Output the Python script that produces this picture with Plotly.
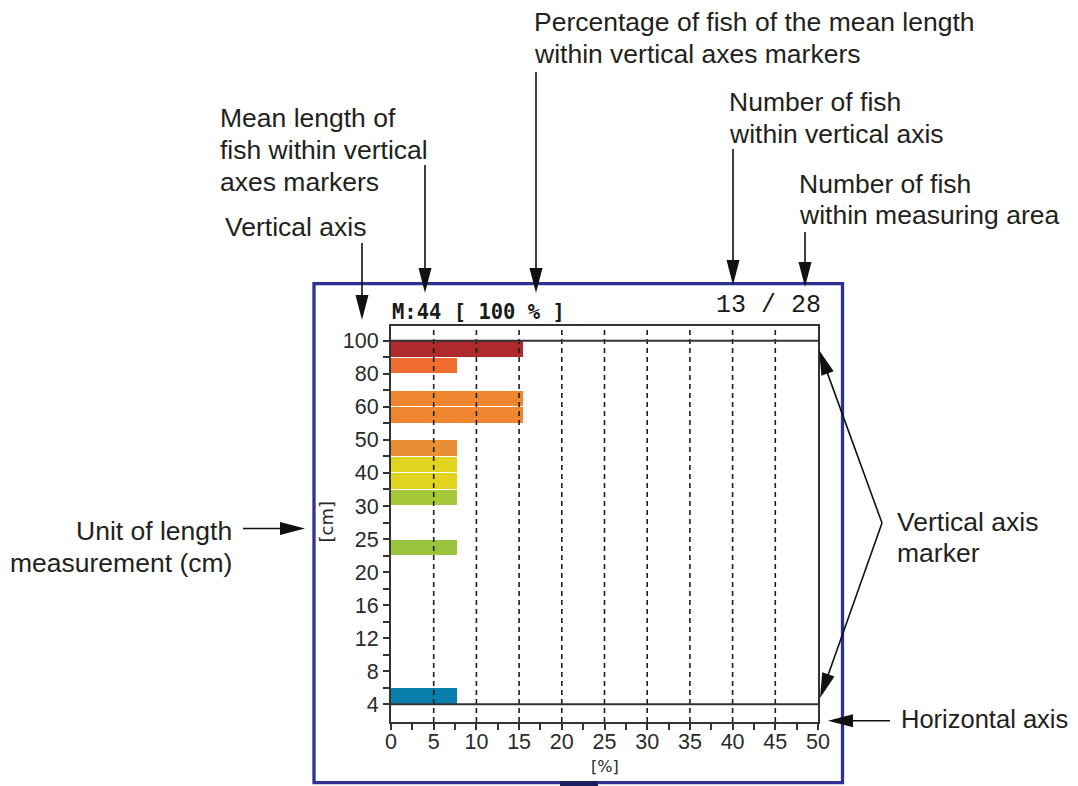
import numpy as np
import plotly.graph_objects as go

# ---------------- data ----------------
length_ticks = [4, 8, 12, 16, 20, 25, 30, 40, 50, 60, 80, 100]      # labelled bin edges [cm]
half_ticks = [6, 10, 14, 18, 22.5, 27.5, 35, 45, 55, 70, 90]         # unlabelled bin edges [cm]
bin_bottom_cm = [90, 80, 60, 55, 45, 40, 35, 30, 22.5, 4]
bin_top_cm = [100, 90, 70, 60, 50, 45, 40, 35, 25, 6]
fish_percent = [15.4, 7.7, 15.4, 15.4, 7.7, 7.7, 7.7, 7.7, 7.7, 7.7]
bar_colors = ['#ae2a2d', '#f06d32', '#f08530', '#f08530', '#e88f35',
              '#e2d31f', '#e2d31f', '#a5c93b', '#9bc43e', '#0a7eaa']
pct_ticks = [0, 5, 10, 15, 20, 25, 30, 35, 40, 45, 50]
pct_minor = [2.5, 7.5, 12.5, 17.5, 22.5, 27.5, 32.5, 37.5, 42.5, 47.5]
marker_cm = [100, 4]
mean_length = 44
mean_pct = 100
n_within_axis = 13
n_within_area = 28

# ---------------- geometry helpers ----------------
# the page body has an 8px margin, so the figure is drawn 8px smaller/offset
OFF = 8
W, H = 1078 - OFF, 786 - OFF
PL, PR, PT, PB = 391, 818, 326, 722          # plot area in reference-page pixels
L, T = PL - OFF, PT - OFF
R, B = W - (PR - OFF), H - (PB - OFF)
PW, PH = PR - PL, PB - PT


def px(x):
    return (x - PL) / PW


def py(y):
    return (PB - y) / PH


edges = sorted(length_ticks + half_ticks)
edge_pos = list(range(len(edges)))


def pos(cm):
    return float(np.interp(cm, edges, edge_pos))


y_center = [(pos(a) + pos(b)) / 2 for a, b in zip(bin_bottom_cm, bin_top_cm)]
y_width = [0.94 * (pos(b) - pos(a)) for a, b in zip(bin_bottom_cm, bin_top_cm)]

fig = go.Figure()
fig.add_trace(go.Bar(
    orientation='h', x=fish_percent, y=y_center, width=y_width, base=0,
    marker=dict(color=bar_colors, line=dict(width=0)),
    showlegend=False, hoverinfo='skip'))

ytickvals = [pos(e) for e in edges]
ytext = [(f'{e:g}' if e in length_ticks else '') for e in edges]
xtickvals = sorted(pct_ticks + pct_minor)
xtext = [(f'{v:g}' if v in pct_ticks else '') for v in xtickvals]

AX = '#333333'
TXT = '#231f20'
TICKFONT = dict(family='Liberation Sans', size=21.5, color='#2a2a2a')
fig.update_layout(
    width=W, height=H,
    margin=dict(l=L, r=R, t=T, b=B, pad=0),
    paper_bgcolor='white', plot_bgcolor='white',
    bargap=0,
    xaxis=dict(range=[0, 50], showgrid=False, zeroline=False,
               showline=True, linecolor=AX, linewidth=2, mirror=True,
               ticks='outside', ticklen=6, tickwidth=1.5, tickcolor=AX,
               tickvals=xtickvals, ticktext=xtext, ticklabelstandoff=-7,
               tickfont=TICKFONT),
    yaxis=dict(range=[-1.07, 22.89], showgrid=False, zeroline=False,
               showline=True, linecolor=AX, linewidth=2, mirror=True,
               ticks='outside', ticklen=6, tickwidth=1.5, tickcolor=AX,
               tickvals=ytickvals, ticktext=ytext, ticklabelstandoff=0,
               tickfont=TICKFONT),
)

shapes = []
for v in pct_ticks[1:-1]:
    shapes.append(dict(type='line', xref='x', yref='paper', x0=v, x1=v, y0=0, y1=1,
                       line=dict(color='#1e1e1e', width=1.6, dash='5px,4px'), layer='above'))
for m in marker_cm:
    shapes.append(dict(type='line', xref='x', yref='y', x0=0, x1=50, y0=pos(m), y1=pos(m),
                       line=dict(color=AX, width=2), layer='above'))
FRAME = '#2e3192'
shapes.append(dict(type='rect', xref='paper', yref='paper',
                   x0=px(314), x1=px(842.5), y0=py(782.7), y1=py(283.7),
                   line=dict(color=FRAME, width=3.3), fillcolor='rgba(0,0,0,0)', layer='above'))
shapes.append(dict(type='rect', xref='paper', yref='paper',
                   x0=px(560), x1=px(598), y0=py(786), y1=py(781),
                   line=dict(width=0), fillcolor='#1b1f5e', layer='above'))


def arrow(tail, tip, head_len=25, half_w=6.5, width=1.6):
    tx, ty = tip
    sx, sy = tail
    dx, dy = tx - sx, ty - sy
    n = (dx * dx + dy * dy) ** 0.5
    ux, uy = dx / n, dy / n
    bx, by = tx - ux * head_len, ty - uy * head_len
    nx, ny = -uy, ux
    shapes.append(dict(type='line', xref='paper', yref='paper',
                       x0=px(sx), y0=py(sy), x1=px(bx + ux * 2), y1=py(by + uy * 2),
                       line=dict(color='#111111', width=width), layer='above'))
    p1 = (bx + nx * half_w, by + ny * half_w)
    p2 = (bx - nx * half_w, by - ny * half_w)
    path = (f'M {px(tx)},{py(ty)} L {px(p1[0])},{py(p1[1])} '
            f'L {px(p2[0])},{py(p2[1])} Z')
    shapes.append(dict(type='path', xref='paper', yref='paper', path=path,
                       fillcolor='#111111', line=dict(width=0), layer='above'))


arrow((362, 243), (362, 320))
arrow((425, 165), (425, 293))
arrow((536, 72), (536, 293))
arrow((733, 149), (733, 285))
arrow((805, 232), (805, 287))
arrow((243, 528.5), (305, 528.5))
arrow((890, 720.7), (828, 720.7))
arrow((882, 523), (819, 350))
arrow((882, 523), (820, 698))

fig.update_layout(shapes=shapes)

ann = []


def label(text, x, y, xanchor='left', size=26.5, family='Liberation Sans', color=TXT, **kw):
    ann.append(dict(text=text, x=px(x), y=py(y), xref='paper', yref='paper',
                    xanchor=xanchor, yanchor='middle', showarrow=False,
                    font=dict(family=family, size=size, color=color), **kw))


label('Percentage of fish of the mean length', 532, 22)
label('within vertical axes markers', 532, 54)
label('Number of fish', 727, 102)
label('within vertical axis', 727, 134)
label('Mean length of', 218, 118)
label('fish within vertical', 218, 150)
label('axes markers', 218, 182)
label('Number of fish', 797, 184)
label('within measuring area', 797, 215)
label('Vertical axis', 223, 227)
label('Unit of length', 234, 531, xanchor='right')
label('measurement (cm)', 234, 563, xanchor='right')
label('Vertical axis', 895, 522)
label('marker', 895, 553)
label('Horizontal axis', 899, 719, size=25.5)

label(f'<b>M:{mean_length} [ {mean_pct} % ]</b>', 390, 312, size=20.5,
      family='DejaVu Sans Mono', color='#1a1a1a')
label(f'{n_within_axis} / {n_within_area}', 823, 306, xanchor='right', size=25,
      family='Liberation Mono', color='#1a1a1a')
label('[%]', 604.5, 766, xanchor='center', size=16, family='DejaVu Sans', color='#2a2a2a')
ann.append(dict(text='[cm]', x=px(325.5), y=py(522), xref='paper', yref='paper',
                xanchor='center', yanchor='middle', showarrow=False, textangle=-90,
                font=dict(family='DejaVu Sans', size=18, color='#2a2a2a')))

fig.update_layout(annotations=ann)
fig.write_html('out.html')
